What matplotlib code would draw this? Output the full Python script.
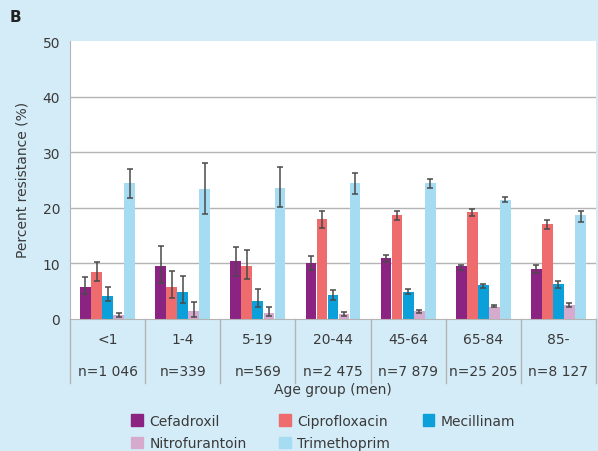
import numpy as np
import matplotlib.pyplot as plt
from matplotlib.patches import Patch

# Data
groups = ['<1', '1-4', '5-19', '20-44', '45-64', '65-84', '85-']
counts = ['n=1 046', 'n=339', 'n=569', 'n=2 475', 'n=7 879', 'n=25 205', 'n=8 127']
drugs = ['Cefadroxil', 'Ciprofloxacin', 'Mecillinam', 'Nitrofurantoin', 'Trimethoprim']
colors = ['#8b2383', '#ef6c6e', '#0ba0d9', '#d6aacd', '#a6dcf1']

cefadroxil = [5.7, 9.5, 10.4, 10.1, 10.9, 9.5, 9.0]
cefadroxil_lo = [4.5, 6.4, 7.7, 8.8, 10.2, 8.8, 8.3]
cefadroxil_hi = [7.6, 13.2, 13.0, 11.3, 11.6, 9.7, 9.7]

ciprofloxacin = [8.5, 5.8, 9.5, 17.9, 18.7, 19.3, 17.1]
ciprofloxacin_lo = [6.8, 3.8, 7.2, 16.4, 17.8, 18.5, 16.1]
ciprofloxacin_hi = [10.2, 8.6, 12.4, 19.5, 19.5, 19.7, 17.8]

mecillinam = [4.2, 4.9, 3.3, 4.4, 4.9, 6.1, 6.3]
mecillinam_lo = [3.2, 2.9, 2.1, 3.5, 4.5, 5.6, 5.5]
mecillinam_hi = [5.7, 7.8, 5.4, 5.2, 5.4, 6.3, 6.8]

nitrofurantoin = [0.7, 1.45, 1.15, 0.9, 1.45, 2.2, 2.5]
nitrofurantoin_lo = [0.3, 0.4, 0.5, 0.6, 1.0, 2.1, 2.1]
nitrofurantoin_hi = [1.1, 3.0, 2.2, 1.3, 1.7, 2.5, 2.8]

trimethoprim = [24.4, 23.3, 23.6, 24.4, 24.4, 21.4, 18.7]
trimethoprim_lo = [21.8, 18.8, 20.1, 22.5, 23.5, 21.0, 17.5]
trimethoprim_hi = [27.0, 28.1, 27.3, 26.2, 25.2, 21.9, 19.5]

values = [cefadroxil, ciprofloxacin, mecillinam, nitrofurantoin, trimethoprim]
lows = [cefadroxil_lo, ciprofloxacin_lo, mecillinam_lo, nitrofurantoin_lo, trimethoprim_lo]
highs = [cefadroxil_hi, ciprofloxacin_hi, mecillinam_hi, nitrofurantoin_hi, trimethoprim_hi]

bg = '#d4ecf8'
txt = '#3a3a3a'
grid = '#b4b4b4'

plt.rcParams['font.family'] = 'DejaVu Sans'

fig = plt.figure(figsize=(5.98, 4.52), dpi=100, facecolor=bg)
ax = fig.add_axes([70 / 598, 132 / 452, 526 / 598, 278 / 452])
ax.set_facecolor('white')

x = np.arange(len(groups))
w = 0.147
for i, (vals, lo, hi, c) in enumerate(zip(values, lows, highs, colors)):
    vals = np.array(vals)
    err = [vals - np.array(lo), np.array(hi) - vals]
    ax.bar(x + (i - 2) * w, vals, width=w * 0.97, color=c, zorder=2)
    ax.errorbar(x + (i - 2) * w, vals, yerr=err, fmt='none', ecolor='#4a4a4a',
                elinewidth=1.1, capsize=2.5, capthick=1.1, zorder=3)

ax.set_xlim(-0.5, len(groups) - 0.5)
ax.set_ylim(0, 50)
ax.set_yticks([0, 10, 20, 30, 40, 50])
ax.set_xticks([])
ax.tick_params(axis='y', length=0, labelsize=10, labelcolor=txt, pad=7)
for yv in [10, 20, 30, 40]:
    ax.axhline(yv, color=grid, lw=1, zorder=1)
for s in ['top', 'right']:
    ax.spines[s].set_visible(False)
ax.spines['left'].set_color(grid)
ax.spines['bottom'].set_color(grid)

# table under the axis
for i in range(len(groups) + 1):
    ax.plot([i - 0.5, i - 0.5], [0, -11.5], color=grid, lw=1, clip_on=False)
for i, (g, n) in enumerate(zip(groups, counts)):
    ax.text(i, -3.6, g, ha='center', va='center', fontsize=10, color=txt)
    ax.text(i, -9.3, n, ha='center', va='center', fontsize=10, color=txt)

fig.text(333 / 598, 1 - 390 / 452, 'Age group (men)', ha='center', va='center',
         fontsize=10, color=txt)
fig.text(22 / 598, 1 - 180 / 452, 'Percent resistance (%)', rotation=90,
         ha='center', va='center', fontsize=10, color=txt)
fig.text(10 / 598, 1 - 18 / 452, 'B', ha='left', va='center', fontsize=11,
         fontweight='bold', color='#222222')

handles = [Patch(color=c, label=d) for c, d in zip(colors, drugs)]
order = [0, 3, 1, 4, 2]
fig.legend([handles[k] for k in order], [drugs[k] for k in order], ncol=3,
           loc='center left', bbox_to_anchor=(120 / 598, 1 - 433 / 452),
           frameon=False, fontsize=10, handlelength=0.85, handleheight=0.85,
           handletextpad=0.45, columnspacing=2.35, labelspacing=0.6,
           borderpad=0.3, labelcolor=txt)

fig.savefig('out.png', dpi=100, facecolor=bg)
